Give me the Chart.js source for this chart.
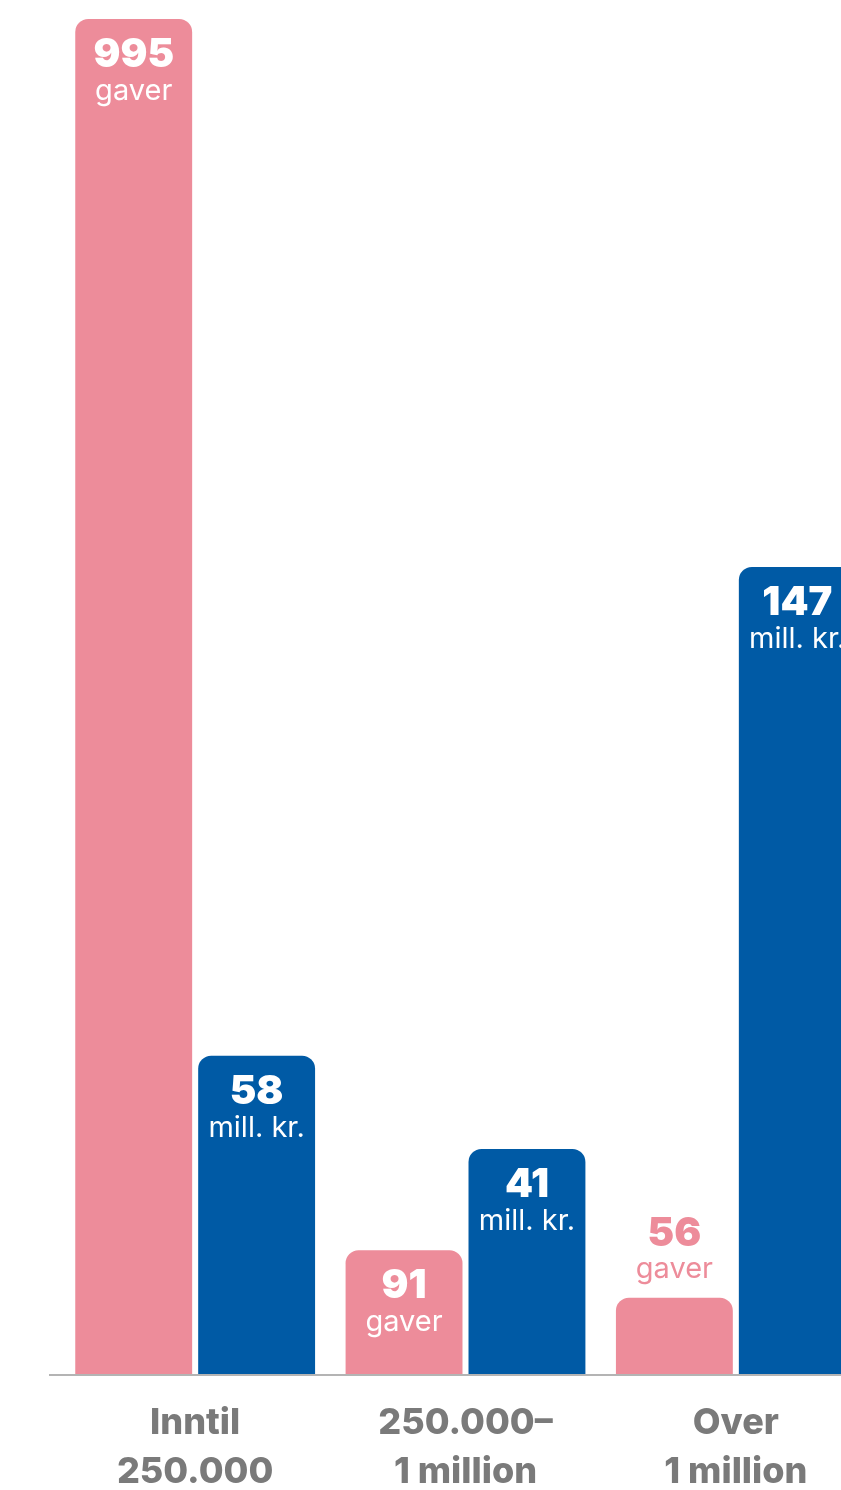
<!DOCTYPE html>
<html><head><meta charset="utf-8">
<script src="https://cdn.jsdelivr.net/npm/chart.js@4/dist/chart.umd.min.js"></script>
<style>
html,body{margin:0;padding:0;background:#fff;overflow:hidden;width:841px;height:1490px;}
#wrap{position:absolute;left:0;top:0;width:900px;height:1530px;}
</style></head><body>
<div id="wrap"><canvas id="c"></canvas></div>
<script>
const categories = [['Inntil', '250.000'], ['250.000–', '1 million'], ['Over', '1 million']];
const giftCounts = [995, 91, 56];
const amountsMill = [58, 41, 147];
const seriesNames = ['Antall gaver', 'Mill. kr.'];
const seriesUnits = ['gaver', 'mill. kr.'];

const PINK = '#ED8C9A';
const BLUE = '#005AA5';

const valueLabels = {
  id: 'valueLabels',
  afterDatasetsDraw(chart) {
    const ctx = chart.ctx;
    chart.data.datasets.forEach((ds, di) => {
      const meta = chart.getDatasetMeta(di);
      meta.data.forEach((bar, i) => {
        const p = bar.getProps(['x', 'y', 'base'], true);
        const h = p.base - p.y;
        const inside = h > 110;
        ctx.save();
        ctx.textAlign = 'center';
        ctx.textBaseline = 'alphabetic';
        ctx.fillStyle = inside ? '#ffffff' : ds.backgroundColor;
        ctx.font = '900 40px Inter, "DejaVu Sans", sans-serif';
        ctx.fillText(String(ds.data[i]), p.x, inside ? p.y + 48 : p.y - 52);
        ctx.font = '400 29px Inter, "DejaVu Sans", sans-serif';
        ctx.fillText(seriesUnits[di], p.x, inside ? p.y + 81 : p.y - 20);
        ctx.restore();
      });
    });
  }
};

const baseline = {
  id: 'baseline',
  afterDatasetsDraw(chart) {
    const ctx = chart.ctx;
    const y = chart.scales.y.getPixelForValue(0);
    ctx.save();
    ctx.strokeStyle = '#B4B4B4';
    ctx.lineWidth = 2;
    ctx.beginPath();
    ctx.moveTo(49, y + 1);
    ctx.lineTo(chart.width, y + 1);
    ctx.stroke();
    ctx.restore();
  }
};

const barStyle = {
  borderRadius: {topLeft: 13, topRight: 13, bottomLeft: 0, bottomRight: 0},
  borderSkipped: 'start',
  barPercentage: 0.951,
  categoryPercentage: 0.9094
};

new Chart(document.getElementById('c'), {
  type: 'bar',
  data: {
    labels: categories,
    datasets: [
      Object.assign({label: seriesNames[0], data: giftCounts, backgroundColor: PINK, yAxisID: 'y'}, barStyle),
      Object.assign({label: seriesNames[1], data: amountsMill, backgroundColor: BLUE, yAxisID: 'y1'}, barStyle)
    ]
  },
  options: {
    responsive: true,
    maintainAspectRatio: false,
    animation: false,
    layout: {padding: {left: 60, right: 29, top: 19, bottom: 8}},
    plugins: {legend: {display: false}, tooltip: {enabled: false}},
    scales: {
      x: {
        grid: {display: false, drawTicks: false},
        border: {display: false},
        ticks: {
          color: '#7A7A7A',
          font: {family: 'Inter', weight: '800', size: 36, lineHeight: 1.36},
          padding: 25,
          maxRotation: 0,
          autoSkip: false
        }
      },
      y: {display: false, min: 0, max: 995},
      y1: {display: false, min: 0, max: 246.8, position: 'right'}
    }
  },
  plugins: [valueLabels, baseline]
});
</script>
</body></html>
